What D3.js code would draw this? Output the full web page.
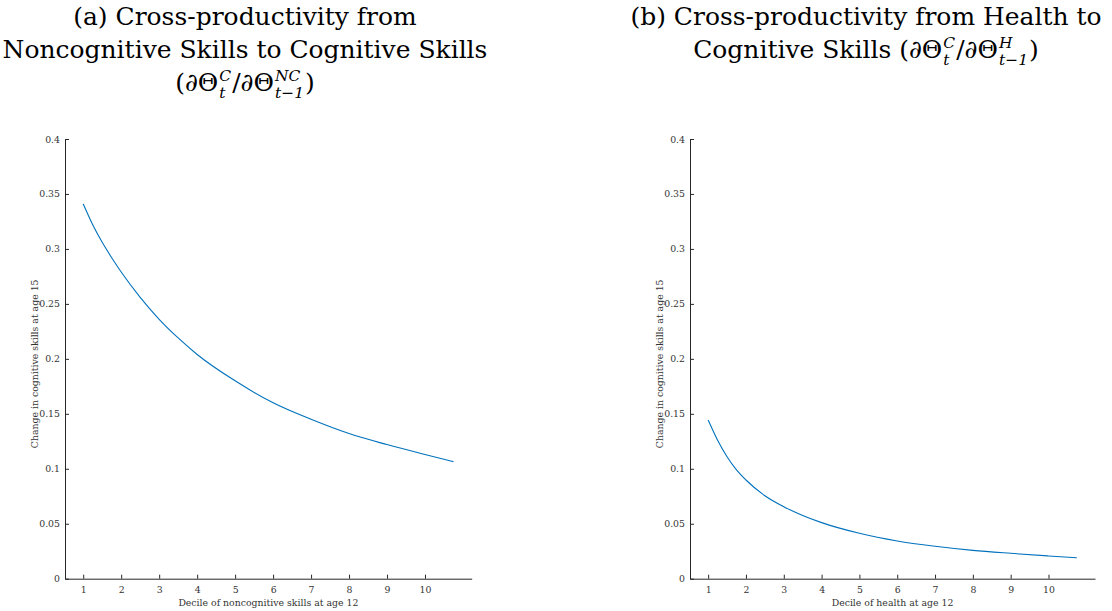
<!DOCTYPE html>
<html><head><meta charset="utf-8">
<script src="https://cdn.jsdelivr.net/npm/d3@7"></script>
<style>body{margin:0;background:#fff}svg{display:block}text{font-family:'DejaVu Serif',serif}</style>
</head><body><svg id="c" width="1112" height="611"></svg>
<script>
// Data
const decileX = [1, 1.25, 1.5, 1.75, 2, 2.5, 3, 3.5, 4, 5, 6, 7, 8, 9, 10, 10.75];
const nonCogToCog = [0.341, 0.322, 0.306, 0.292, 0.279, 0.256, 0.236, 0.219, 0.204, 0.180, 0.160, 0.145, 0.132, 0.122, 0.113, 0.1065];
const healthToCog = [0.1444, 0.126, 0.111, 0.099, 0.0898, 0.0755, 0.0655, 0.0575, 0.051, 0.0413, 0.0343, 0.0295, 0.0258, 0.0231, 0.0207, 0.019];
const xTicks = [1, 2, 3, 4, 5, 6, 7, 8, 9, 10];
const yTicks = [0, 0.05, 0.1, 0.15, 0.2, 0.25, 0.3, 0.35, 0.4];
const yLabel = "Change in cognitive skills at age 15";
const xLabels = ["Decile of noncognitive skills at age 12", "Decile of health at age 12"];

const svg = d3.select("#c");

function measure(str, size, italic) {
  const t = svg.append("text").attr("font-size", size).attr("font-style", italic ? "italic" : "normal").text(str);
  const w = t.node().getComputedTextLength();
  t.remove();
  return w;
}
// size the title font so the widest line matches the reference width (~485px)
const FS = 100 * 485 / measure("Noncognitive Skills to Cognitive Skills", 100, false);
const SFS = FS * 0.62;
// small label font sized so the left x label is ~180px wide
const LFS = 100 * 180 / measure(xLabels[0], 100, false);

const panels = [
  {x0: 65, x1: 471.7, vals: nonCogToCog, xl: xLabels[0], tc: 245,
   title: [[["(a) Cross-productivity from","n"]], [["Noncognitive Skills to Cognitive Skills","n"]],
           [["(∂Θ","n"],[["t","C"],"s"],["/∂Θ","n"],[["t−1","NC"],"s"],[")","n"]]]},
  {x0: 690, x1: 1095, vals: healthToCog, xl: xLabels[1], tc: 866,
   title: [[["(b) Cross-productivity from Health to","n"]],
           [["Cognitive Skills (∂Θ","n"],[["t","C"],"s"],["/∂Θ","n"],[["t−1","H"],"s"],[")","n"]]]}
];
const yTop = 139, yBot = 578.7;
const axisCol = "#262626";

panels.forEach(p => {
  const x = d3.scaleLinear().domain([0.52, 11.23]).range([p.x0, p.x1]);
  const y = d3.scaleLinear().domain([0, 0.4]).range([yBot, yTop]);
  const g = svg.append("g");
  const xa = g.append("g").attr("transform", `translate(0,${yBot})`)
    .call(d3.axisBottom(x).tickValues(xTicks).tickFormat(d3.format("d")).tickSizeInner(-4).tickSizeOuter(0).tickPadding(8));
  const ya = g.append("g").attr("transform", `translate(${p.x0},0)`)
    .call(d3.axisLeft(y).tickValues(yTicks).tickFormat(d => d === 0 ? "0" : String(+d.toFixed(2))).tickSizeInner(-4).tickSizeOuter(0));
  [xa, ya].forEach(a => {
    a.select(".domain").attr("stroke", axisCol).attr("stroke-width", 1);
    a.selectAll(".tick line").attr("stroke", axisCol);
    a.selectAll("text").attr("font-family", null).attr("font-size", LFS).attr("fill", "#333");
  });
  ya.selectAll(".tick text").attr("x", -5);
  g.append("path").datum(decileX.map((d, i) => [d, p.vals[i]]))
    .attr("fill", "none").attr("stroke", "#0072BD").attr("stroke-width", 1.1)
    .attr("d", d3.line().x(d => x(d[0])).y(d => y(d[1])).curve(d3.curveMonotoneX));
  g.append("text").attr("x", (p.x0 + p.x1) / 2).attr("y", 606).attr("text-anchor", "middle")
    .attr("font-size", LFS).attr("fill", "#333").text(p.xl);
  g.append("text").attr("transform", `translate(${p.x0 - 27},${(yTop + yBot) / 2 + 5}) rotate(-90)`)
    .attr("text-anchor", "middle").attr("font-size", LFS).attr("fill", "#333").text(yLabel);

  p.title.forEach((line, li) => {
    const base = 25 + li * 33;
    const parts = line.map(([s, k]) => {
      if (k === "n") return {k, s, w: measure(s, FS, false)};
      const ws = measure(s[0], SFS, true), wp = measure(s[1], SFS, true);
      return {k, s, ws, wp, w: Math.max(ws, wp) + 2};
    });
    const total = d3.sum(parts, d => d.w);
    let cx = p.tc - total / 2;
    parts.forEach(pt => {
      if (pt.k === "n") {
        g.append("text").attr("x", cx).attr("y", base).attr("font-size", FS).attr("fill", "#000").text(pt.s);
      } else {
        g.append("text").attr("x", cx + 1).attr("y", base + 7).attr("font-size", SFS).attr("font-style", "italic").attr("fill", "#000").text(pt.s[0]);
        g.append("text").attr("x", cx + 1).attr("y", base - 10).attr("font-size", SFS).attr("font-style", "italic").attr("fill", "#000").text(pt.s[1]);
      }
      cx += pt.w;
    });
  });
});
</script></body></html>
